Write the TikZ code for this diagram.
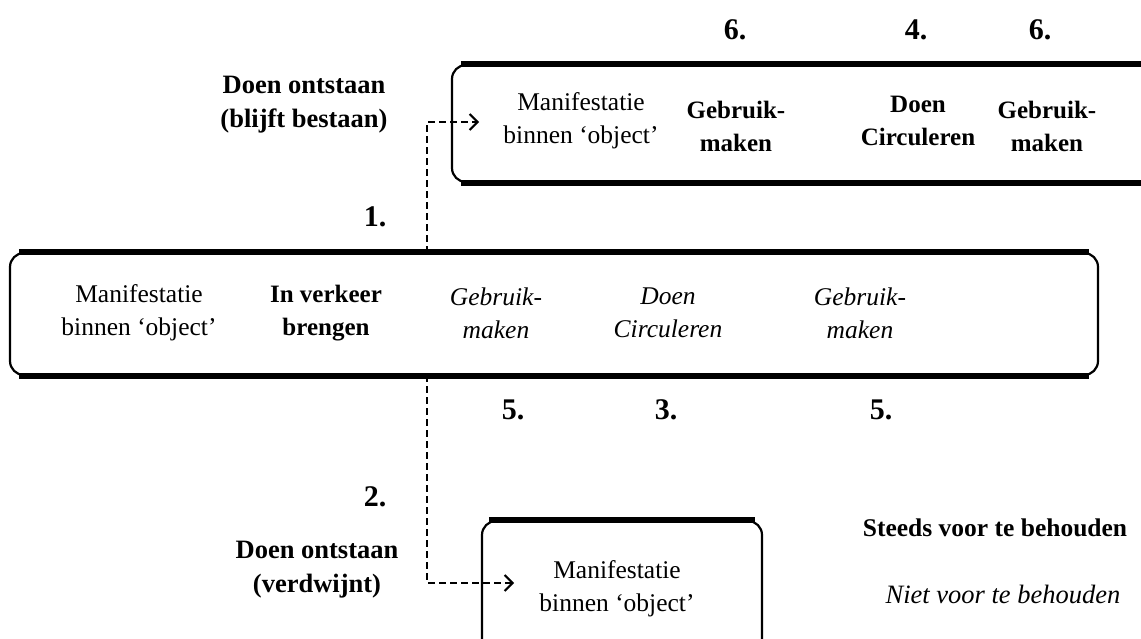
\documentclass[tikz,border=0pt]{standalone}
\usepackage{fontspec}
\setmainfont{Liberation Serif}
\usetikzlibrary{arrows.meta}
\begin{document}
\begin{tikzpicture}[x=1pt,y=-1pt,
  lbl/.style={font=\fontsize{25.5}{33}\selectfont, align=center, inner sep=0pt},
  bl/.style={lbl, font=\fontsize{25}{33}\selectfont\bfseries},
  obl/.style={lbl, font=\fontsize{26.5}{34}\selectfont\bfseries},
  num/.style={lbl, font=\fontsize{30}{33}\selectfont\bfseries},
  it/.style={lbl, font=\fontsize{25.5}{33}\selectfont\itshape},
  framebox/.style={draw, line width=2.2pt, rounded corners=14pt, inner sep=0pt},
  edge/.style={line width=5.5pt},
  conn/.style={dash pattern=on 7pt off 4pt, line width=2pt, -{Straight Barb[length=8pt,width=16pt,line width=2pt]}}]
\useasboundingbox (0,0) rectangle (1141,639);
\clip (0,0) rectangle (1141,639);

% boxes
\node[framebox, minimum width=1088pt, minimum height=122pt] (main) at (554,314) {};
\node[framebox, minimum width=718pt, minimum height=117pt] (top) at (811,123.5) {};
\node[framebox, minimum width=280pt, minimum height=160pt] (bot) at (622,601) {};
\draw[edge] ([xshift=10pt]main.north west) -- ([xshift=-10pt]main.north east);
\draw[edge] ([xshift=10pt]main.south west) -- ([xshift=-10pt]main.south east);
\draw[edge] ([xshift=10pt]top.north west) -- ([xshift=-10pt]top.north east);
\draw[edge] ([xshift=10pt]top.south west) -- ([xshift=-10pt]top.south east);
\draw[edge] ([xshift=8pt]bot.north west) -- ([xshift=-8pt]bot.north east);

% main box texts
\node[lbl] (m1) at (139,313) {Manifestatie\\binnen ‘object’};
\node[bl]  (m2) at (326,313) {In verkeer\\brengen};
\node[it]  (m3) at (496,313) {Gebruik-\\maken};
\node[it]  (m4) at (668,313) {Doen\\Circuleren};
\node[it]  (m5) at (860,313) {Gebruik-\\maken};

% top box texts
\node[lbl] (t1) at (581,121) {Manifestatie\\binnen ‘object’};
\node[bl]  (t2) at (736,126) {Gebruik-\\maken};
\node[bl]  (t3) at (918,121) {Doen\\Circuleren};
\node[bl]  (t4) at (1047,126) {Gebruik-\\maken};

% bottom box text
\node[lbl] (b1) at (617,589) {Manifestatie\\binnen ‘object’};

% numbers
\node[num] (n6a) at (735,30) {6.};
\node[num] (n4)  at (916,30) {4.};
\node[num] (n6b) at (1040,30) {6.};
\node[num] (n1)  at (375,217) {1.};
\node[num] (n5a) at (513,410) {5.};
\node[num] (n3)  at (666,410) {3.};
\node[num] (n5b) at (881,410) {5.};
\node[num] (n2)  at (375,497) {2.};

% side labels
\node[obl] (d1) at (304,105) {Doen ontstaan\\(blijft bestaan)};
\node[obl] (d2) at (317,570) {Doen ontstaan\\(verdwijnt)};
\node[obl, font=\fontsize{25.5}{33}\selectfont\bfseries] (k1) at (995,528) {Steeds voor te behouden};
\node[it, font=\fontsize{26.5}{33}\selectfont\itshape] (k2) at (1003,594) {Niet voor te behouden};

% connectors
\coordinate (s1) at (427,253);
\coordinate (e1) at (479,122);
\coordinate (s2) at (427,375);
\coordinate (e2) at (514,583);
\draw[conn] (s1) |- (e1);
\draw[conn] (s2) |- (e2);
\end{tikzpicture}
\end{document}
